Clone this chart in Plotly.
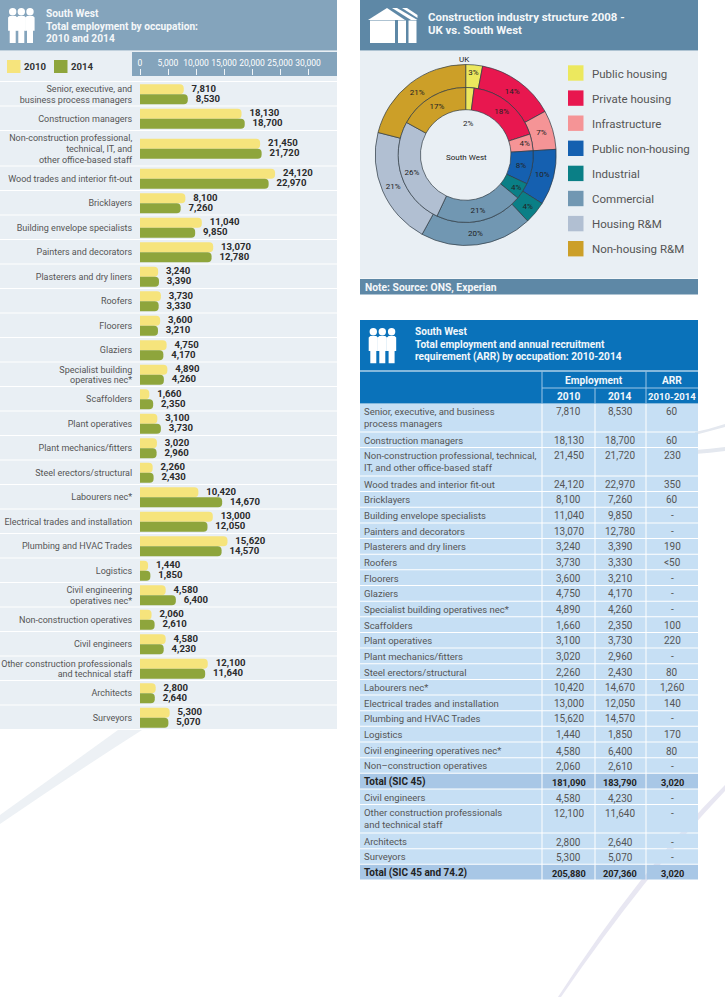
import plotly.graph_objects as go

W, H = 725, 1005

# ---------- data ----------
occupations = [
    "Senior, executive, and<br>business process managers", "Construction managers",
    "Non-construction professional,<br>technical, IT, and<br>other office-based staff",
    "Wood trades and interior fit-out", "Bricklayers", "Building envelope specialists",
    "Painters and decorators", "Plasterers and dry liners", "Roofers", "Floorers", "Glaziers",
    "Specialist building<br>operatives nec*", "Scaffolders", "Plant operatives",
    "Plant mechanics/fitters", "Steel erectors/structural", "Labourers nec*",
    "Electrical trades and installation", "Plumbing and HVAC Trades", "Logistics",
    "Civil engineering<br>operatives nec*", "Non-construction operatives", "Civil engineers",
    "Other construction professionals<br>and technical staff", "Architects", "Surveyors",
]
emp_2010 = [7810, 18130, 21450, 24120, 8100, 11040, 13070, 3240, 3730, 3600, 4750, 4890, 1660,
            3100, 3020, 2260, 10420, 13000, 15620, 1440, 4580, 2060, 4580, 12100, 2800, 5300]
emp_2014 = [8530, 18700, 21720, 22970, 7260, 9850, 12780, 3390, 3330, 3210, 4170, 4260, 2350,
            3730, 2960, 2430, 14670, 12050, 14570, 1850, 6400, 2610, 4230, 11640, 2640, 5070]
axis_ticks = [0, 5000, 10000, 15000, 20000, 25000, 30000]

table_labels = [
    "Senior, executive, and business<br>process managers", "Construction managers",
    "Non-construction professional, technical,<br>IT, and other office-based staff",
    "Wood trades and interior fit-out", "Bricklayers", "Building envelope specialists",
    "Painters and decorators", "Plasterers and dry liners", "Roofers", "Floorers", "Glaziers",
    "Specialist building operatives nec*", "Scaffolders", "Plant operatives",
    "Plant mechanics/fitters", "Steel erectors/structural", "Labourers nec*",
    "Electrical trades and installation", "Plumbing and HVAC Trades", "Logistics",
    "Civil engineering operatives nec*", "Non\u2013construction operatives", "Total (SIC 45)",
    "Civil engineers", "Other construction professionals<br>and technical staff", "Architects",
    "Surveyors", "Total (SIC 45 and 74.2)",
]
total_sic45 = [181090, 183790]
total_all = [205880, 207360]
arr_values = ["60", "60", "230", "350", "60", "-", "-", "190", "&lt;50", "-", "-", "-", "100", "220", "-",
              "80", "1,260", "140", "-", "170", "80", "-", "3,020", "-", "-", "-", "-", "3,020"]

sectors = ["Public housing", "Private housing", "Infrastructure", "Public non-housing",
           "Industrial", "Commercial", "Housing R&M", "Non-housing R&M"]
uk_share = [3, 14, 7, 10, 4, 20, 21, 21]
south_west_share = [2, 18, 4, 8, 4, 21, 26, 17]
sector_colors = ["#ece85e", "#e8174f", "#f59496", "#1560b0", "#0a7f86", "#7197b2", "#b1bfd2", "#cc9f28"]

# ---------- styles ----------
FONT = "Roboto"
BAR_A, BAR_B = "#f6e47c", "#8ea53c"
PALE = "#e9eff4"
SLATE = "#84a4bc"
STEEL = "#5e88a6"
BLUE = "#0a72ba"
CELL = "#c6dff4"
TOTAL = "#a8c7e6"
GREY = "#555555"


def px(x):
    return x / W


def py(y):
    return 1 - y / H


shapes, notes = [], []


def rect(x0, y0, x1, y1, color):
    shapes.append(dict(type="rect", xref="paper", yref="paper", x0=px(x0), x1=px(x1),
                       y0=py(y0), y1=py(y1), fillcolor=color, line_width=0, layer="below"))


def poly(points, color):
    d = ""
    for item in points:
        if isinstance(item, str):
            d += item + " "
        else:
            d += f"{px(item[0]):.5f},{py(item[1]):.5f} "
    shapes.append(dict(type="path", xref="paper", yref="paper", path=d, fillcolor=color,
                       line_width=0, layer="below"))


def text(x, y, s, size=10, color=GREY, bold=False, anchor="left"):
    notes.append(dict(xref="paper", yref="paper", x=px(x - 1 if anchor == "left" else x), y=py(y + 0.5),
                      text=f"<b>{s}</b>" if bold else s,
                      showarrow=False, xanchor=anchor, yanchor="middle", borderpad=0,
                      font=dict(family=FONT, size=size, color=color)))


def people(heads, head_y, top, bottom):
    for cx in heads:
        shapes.append(dict(type="circle", xref="paper", yref="paper", x0=px(cx - 3.7), x1=px(cx + 3.7),
                           y0=py(head_y - 3.7), y1=py(head_y + 3.7), fillcolor="white", line_width=0,
                           layer="below"))
    for cx in heads:
        waist = top + (bottom - top) * 0.55
        poly(["M", (cx - 4.6, top + 1.5), "L", (cx - 3, top), "L", (cx + 3, top), "L", (cx + 4.6, top + 1.5),
              "L", (cx + 4.6, waist), "L", (cx + 3, waist), "L", (cx + 3, bottom), "L", (cx - 3, bottom),
              "L", (cx - 3, waist), "L", (cx - 4.6, waist), "Z"], "white")


# faint background swooshes
poly(["M", (0, 815), "Q", (60, 772), (118, 730), "L", (142, 730), "Q", (70, 776), (0, 824), "Z"], "#edf1f5")
poly(["M", (725, 785), "Q", (640, 870), (558, 997), "L", (561, 997), "Q", (645, 875), (725, 791), "Z"], "#e8e7f2")
poly(["M", (695, 432), "Q", (710, 429), (725, 424), "L", (725, 427), "Q", (710, 431), (695, 435), "Z"], "#e4e8ef")
poly(["M", (695, 450), "Q", (710, 449), (725, 447), "L", (725, 451), "Q", (710, 453), (695, 454), "Z"], "#e4e8ef")

# ---------- left panel ----------
rect(0, 0, 337, 50.5, SLATE)
rect(0, 51, 337, 81, PALE)
rect(132, 52, 337, 76, SLATE)
people([12.7, 21.3, 30], 11.7, 16, 43)
for i, line in enumerate(["South West", "Total employment by occupation:", "2010 and 2014"]):
    text(46, 13.5 + i * 12.5, line, 10.2, "#f4f7f9", True)
rect(7, 60, 20.5, 73, BAR_A)
rect(54, 60, 67.5, 73, BAR_B)
text(24, 66.5, "2010", 9.6, "#333333", True)
text(71, 66.5, "2014", 9.6, "#333333", True)

row_lines = [o.count("<br>") + 1 for o in occupations]
row_centers, row_top = [], 82.0
tick_pos, tick_text = [], []
for label, lines in zip(occupations, row_lines):
    h = 35.5 if lines == 3 else 24.5
    rect(0, row_top, 337, row_top + h - 1, PALE)
    center = row_top + h / 2
    row_centers.append(center)
    for j, part in enumerate(label.split("<br>")):
        tick_pos.append(center + (j - (lines - 1) / 2) * 10.7)
        tick_text.append(part)
    row_top += h

fig = go.Figure()
pair_offset = 5
fig.add_bar(name="2010", orientation="h", x=emp_2010, y=[c - pair_offset for c in row_centers], width=10,
            marker_color=BAR_A, marker_line_width=0, showlegend=False)
fig.add_bar(name="2014", orientation="h", x=emp_2014, y=[c + pair_offset for c in row_centers], width=10,
            marker_color=BAR_B, marker_line_width=0, showlegend=False)
for vals, off in ((emp_2010, -pair_offset), (emp_2014, pair_offset)):
    fig.add_scatter(x=vals, y=[c + off + 0.3 for c in row_centers], mode="markers+text",
                    text=[f"{v:,}" for v in vals], textposition="middle right", cliponaxis=False,
                    marker=dict(size=11, color="rgba(0,0,0,0)"),
                    textfont=dict(family=FONT, size=9.6, color="#2b2b2b", weight="bold"), showlegend=False)

# ---------- donut panel ----------
rect(360, 0, 698, 50.5, STEEL)
rect(360, 51, 698, 278.5, PALE)
rect(360, 279, 698, 294.5, STEEL)
poly(["M", (368, 20), "L", (387, 8), "L", (405, 20), "Z"], "white")
poly(["M", (392, 8), "L", (397, 8), "L", (417.5, 20), "L", (411, 20), "Z"], "white")
poly(["M", (402, 8), "L", (407, 8), "L", (417.5, 15), "L", (417.5, 18), "Z"], "white")
rect(370, 20.5, 395, 43, "white")
rect(398, 20.5, 406, 43, "white")
rect(408.5, 20.5, 416.5, 43, "white")
text(427.5, 16, "Construction industry structure 2008 -", 11.4, "#f4f7f9", True)
text(427.5, 29.5, "UK vs. South West", 11.4, "#f4f7f9", True)
text(365, 286.5, "Note: Source: ONS, Experian", 10.3, "#f4f7f9", True)

cx, cy, R_out, R_mid, R_in = 465.7, 155, 90.5, 67.5, 45.3


def donut(values, radius, hole, labels):
    fig.add_pie(labels=sectors, values=values, sort=False, direction="clockwise", rotation=0,
                hole=hole, marker=dict(colors=sector_colors, line=dict(color="#2f3b44", width=0.7)),
                domain=dict(x=[px(cx - radius), px(cx + radius)], y=[py(cy + radius), py(cy - radius)]),
                textinfo="text", text=labels, textposition="inside", insidetextorientation="horizontal",
                textfont=dict(family=FONT, size=8, color="#222222"), showlegend=False)


donut(uk_share, R_out, R_mid / R_out, [f"{v}%" for v in uk_share])
donut(south_west_share, R_mid, R_in / R_mid, [f"{v}%" if v > 2 else "" for v in south_west_share])
text(464.5, 59, "UK", 8, "#222222", anchor="center")
text(466, 157, "South West", 8, "#222222", anchor="center")
text(468, 123, f"{south_west_share[0]}%", 8, "#222222", anchor="center")

for i, (name, color) in enumerate(zip(sectors, sector_colors)):
    yc = 73 + i * 25.1
    rect(568, yc - 7.7, 583.5, yc + 7.7, color)
    text(591.5, yc, name, 11.5, GREY)

# ---------- table ----------
rect(360, 320, 698, 370.5, BLUE)
rect(360, 371.5, 698, 403.5, BLUE)
people([373.3, 382.3, 391.6], 331.7, 336, 363.3)
for i, line in enumerate(["South West", "Total employment and annual recruitment",
                          "requirement (ARR) by occupation: 2010-2014"]):
    text(415, 331 + i * 12.6, line, 10.1, "#f2f7fb", True)
for xa, ya, xb, yb in [(542, 388, 698, 388), (542, 371.5, 542, 404), (595, 388, 595, 404), (646, 371.5, 646, 404)]:
    shapes.append(dict(type="line", xref="paper", yref="paper", x0=px(xa), x1=px(xb), y0=py(ya), y1=py(yb),
                       line=dict(color="#9cc6e6", width=1), layer="below"))
col_x = [568.7, 620, 672.3]
text(594, 379.5, "Employment", 10.2, "#f2f7fb", True, "center")
text(col_x[2], 379.5, "ARR", 10.2, "#f2f7fb", True, "center")
text(col_x[0], 396, "2010", 10.2, "#f2f7fb", True, "center")
text(col_x[1], 396, "2014", 10.2, "#f2f7fb", True, "center")
text(col_x[2], 396, "2010-2014", 9.6, "#f2f7fb", True, "center")

col_2010 = emp_2010[:22] + total_sic45[:1] + emp_2010[22:] + total_all[:1]
col_2014 = emp_2014[:22] + total_sic45[1:] + emp_2014[22:] + total_all[1:]
row_y = 404.0
for label, a, b, arr in zip(table_labels, col_2010, col_2014, arr_values):
    parts = label.split("<br>")
    is_total = label.startswith("Total")
    h = 28.4 if len(parts) == 2 else 15.65
    fill = TOTAL if is_total else CELL
    rect(360, row_y, 541.5, row_y + h - 1, fill)
    rect(542.5, row_y, 594.5, row_y + h - 1, fill)
    rect(595.5, row_y, 645.5, row_y + h - 1, fill)
    rect(646.5, row_y, 698, row_y + h - 1, fill)
    first = row_y + 7.3
    for j, part in enumerate(parts):
        text(364, first + j * 12, part, 10 if is_total else 9.5, "#222222" if is_total else GREY, is_total)
    nudge = 1 if row_y > 740 else 0
    for xc, s in zip(col_x, (f"{a:,}", f"{b:,}", arr)):
        text(xc, first + nudge, s, 9.2 if is_total else 10, "#222222" if is_total else GREY, is_total, "center")
    row_y += h

# ---------- layout ----------
x0_px, x1_px, px_per_unit = 140, 337, 0.0056
fig.update_layout(
    width=W, height=H, margin=dict(l=0, r=0, t=0, b=0, pad=0, autoexpand=False),
    paper_bgcolor="white", plot_bgcolor="rgba(0,0,0,0)", barmode="overlay", barcornerradius=4,
    shapes=shapes, annotations=notes, font=dict(family=FONT),
    uniformtext=dict(minsize=8, mode="show"),
    xaxis=dict(domain=[px(x0_px), px(x1_px)], range=[0, (x1_px - x0_px) / px_per_unit], side="top",
               tickvals=axis_ticks, ticktext=[f"{t:,}" for t in axis_ticks], showgrid=False, zeroline=False,
               showline=False, ticks="outside", ticklen=6, tickcolor="#f0f4f7", tickwidth=1,
               tickfont=dict(family=FONT, size=8.5, color="white")),
    yaxis=dict(domain=[py(730), py(76)], range=[730, 76], tickvals=tick_pos, ticktext=tick_text,
               showgrid=False, zeroline=False, showline=False, ticks="outside", ticklen=5,
               tickcolor="rgba(0,0,0,0)", tickfont=dict(family=FONT, size=9, color=GREY)),
)

fig.write_html("out.html", config=dict(displayModeBar=False),
               post_script="document.body.style.margin='0';document.documentElement.style.overflow='hidden';")
